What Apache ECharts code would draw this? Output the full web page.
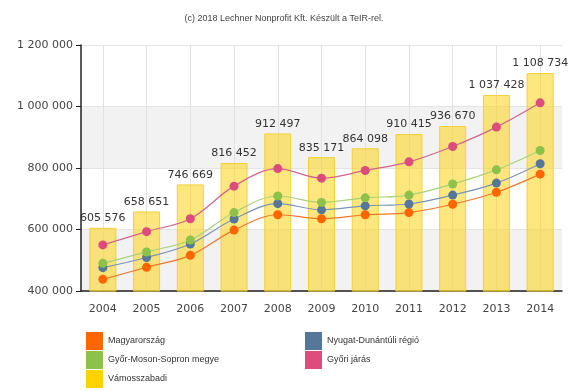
<!DOCTYPE html>
<html>
<head>
<meta charset="utf-8">
<script src="https://cdn.jsdelivr.net/npm/echarts@6/dist/echarts.min.js"></script>
<style>
  html, body { margin: 0; padding: 0; background: #fff; }
  #chart { width: 568px; height: 391px; }
</style>
</head>
<body>
<div id="chart"></div>
<script>
// Population-weighted values by year (bars: Vámosszabadi; lines: comparison areas)
const years = ['2004', '2005', '2006', '2007', '2008', '2009', '2010', '2011', '2012', '2013', '2014'];
const vamosszabadi = [605576, 658651, 746669, 816452, 912497, 835171, 864098, 910415, 936670, 1037428, 1108734];
const magyarorszag = [438000, 477000, 516000, 598000, 648000, 635000, 648000, 655000, 682000, 721000, 780000];
const nyugatDunantul = [476000, 509000, 553000, 634000, 684000, 664000, 677000, 683000, 712000, 751000, 814000];
const gyorMosonSopron = [490000, 527000, 566000, 655000, 709000, 688000, 703000, 712000, 748000, 794000, 857000];
const gyoriJaras = [550000, 593000, 635000, 741000, 798000, 767000, 792000, 820000, 870000, 933000, 1012000];
const yTicks = { min: 400000, max: 1200000, interval: 200000 };

const fmt = v => String(v).replace(/\B(?=(\d{3})+(?!\d))/g, ' ');
const font = 'DejaVu Sans';

const colors = {
  'Magyarország': '#ff6600',
  'Nyugat-Dunántúli régió': '#557799',
  'Győr-Moson-Sopron megye': '#8cc14a',
  'Győri járás': '#dd4c7d',
  'Vámosszabadi': '#ffd200'
};

function lineSeries(name, data, lineColor) {
  return {
    name, type: 'line', data, smooth: 0.35,
    symbol: 'circle', symbolSize: 9,
    itemStyle: { color: colors[name] },
    lineStyle: { color: lineColor, width: 1.2 },
    z: 5
  };
}

function legendBlock(left, names) {
  return {
    orient: 'vertical', left, top: 332, itemWidth: 17, itemHeight: 18, itemGap: 1,
    icon: 'rect', padding: 0,
    textStyle: { fontFamily: 'Liberation Sans', fontSize: 9, color: '#333', padding: [0, 0, 0, 0] },
    data: names.map(n => ({ name: n, itemStyle: { color: colors[n], borderWidth: 0, opacity: 1 } }))
  };
}

const chart = echarts.init(document.getElementById('chart'), null, { renderer: 'canvas' });
chart.setOption({
  animation: false,
  title: {
    text: '(c) 2018 Lechner Nonprofit Kft. Készült a TeIR-rel.',
    left: 'center', top: 9,
    textStyle: { fontFamily: 'Liberation Sans', fontSize: 9, fontWeight: 'normal', color: '#444' }
  },
  grid: { left: 81, top: 45, right: 6, bottom: 100 },
  legend: [
    legendBlock(86, ['Magyarország', 'Győr-Moson-Sopron megye', 'Vámosszabadi']),
    legendBlock(305, ['Nyugat-Dunántúli régió', 'Győri járás'])
  ],
  xAxis: {
    type: 'category', data: years, boundaryGap: true,
    axisLine: { lineStyle: { color: '#222', width: 1.5 } },
    axisTick: { alignWithLabel: true, length: 4, lineStyle: { color: '#222' } },
    axisLabel: { fontFamily: font, fontSize: 11, color: '#444', margin: 13 },
    splitLine: { show: false }
  },
  yAxis: {
    type: 'value', min: yTicks.min, max: yTicks.max, interval: yTicks.interval,
    axisLine: { show: true, lineStyle: { color: '#222', width: 1.5 } },
    axisTick: { show: true, length: 5, lineStyle: { color: '#222' } },
    axisLabel: { fontFamily: font, fontSize: 11, color: '#444', margin: 8, formatter: fmt },
    splitLine: { show: true, lineStyle: { color: '#e4e4e4', width: 1 } },
    splitArea: { show: true, areaStyle: { color: ['#f2f2f2', '#ffffff'] } }
  },
  series: [
    {
      // vertical grid lines through each year, kept beneath bars and lines
      name: 'grid-x', type: 'line', data: [], z: 0, silent: true,
      markLine: {
        silent: true, symbol: 'none', label: { show: false }, z: 0,
        lineStyle: { color: '#e2e2e2', type: 'solid', width: 1 },
        data: years.map(y => ({ xAxis: y }))
      }
    },
    {
      name: 'Vámosszabadi', type: 'bar', data: vamosszabadi, barWidth: 27,
      itemStyle: { color: 'rgba(252, 212, 20, 0.55)', borderColor: '#f2d03a', borderWidth: 1 },
      label: {
        show: true, position: 'top', distance: 4,
        fontFamily: font, fontSize: 11, color: '#333', formatter: p => fmt(p.value)
      },
      z: 2
    },
    lineSeries('Magyarország', magyarorszag, '#f0772a'),
    lineSeries('Nyugat-Dunántúli régió', nyugatDunantul, '#7a95b5'),
    lineSeries('Győr-Moson-Sopron megye', gyorMosonSopron, '#a8d27a'),
    lineSeries('Győri járás', gyoriJaras, '#d0648c')
  ]
});
</script>
</body>
</html>
